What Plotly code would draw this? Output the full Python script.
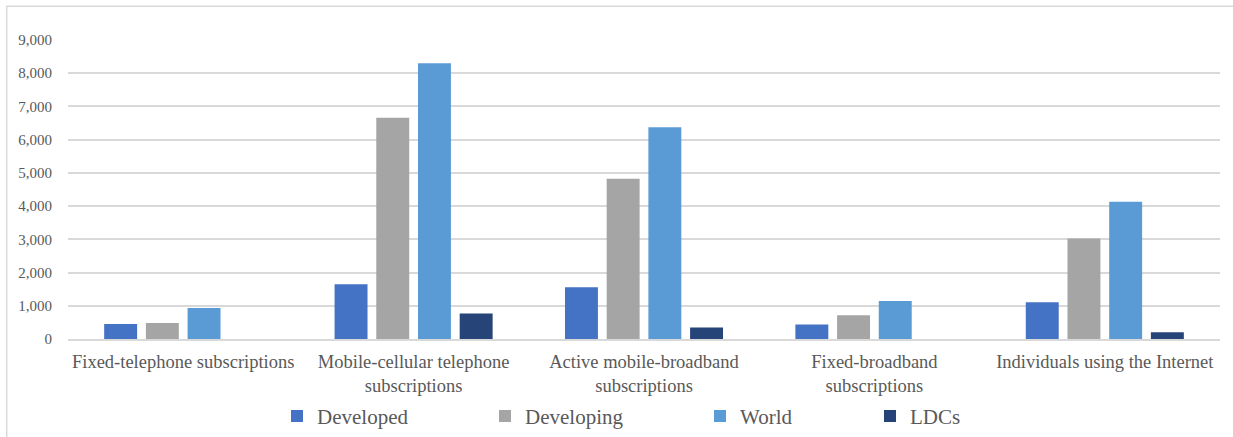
import plotly.graph_objects as go

categories = [
    "Fixed-telephone subscriptions",
    "Mobile-cellular telephone<br>subscriptions",
    "Active mobile-broadband<br>subscriptions",
    "Fixed-broadband<br>subscriptions",
    "Individuals using the Internet",
]
developed = [450, 1650, 1555, 435, 1105]
developing = [485, 6660, 4825, 715, 3025]
world = [935, 8300, 6375, 1145, 4135]
ldcs = [0, 770, 345, 0, 205]

series_names = ["Developed", "Developing", "World", "LDCs"]
series_values = [developed, developing, world, ldcs]
colors = ["#4472C4", "#A5A5A5", "#5B9BD5", "#264478"]

# plot area in pixels (used to place legends and frame in paper units)
L, R, T, B = 68, 13, 39.5, 97.5
W, H = 1233, 437
pw, ph = W - L - R, H - T - B


def px_x(x):
    return (x - L) / pw


def px_y(y):
    return (H - B - y) / ph


legend_starts = [277, 485, 700, 870]
legend_names = ["legend", "legend2", "legend3", "legend4"]

fig = go.Figure()
for name, vals, col, lg in zip(series_names, series_values, colors, legend_names):
    fig.add_trace(go.Bar(x=categories, y=vals, name=name, marker_color=col,
                         marker_line_width=0, legend=lg, showlegend=True))

text_col = "#595959"
serif = "Liberation Serif"

layout_legends = {}
for lg, xs in zip(legend_names, legend_starts):
    layout_legends[lg] = dict(
        x=px_x(xs), y=px_y(417), xanchor="left", yanchor="middle",
        orientation="h", bgcolor="rgba(0,0,0,0)", visible=True,
        font=dict(family=serif, size=21, color=text_col),
        itemwidth=30, tracegroupgap=0,
    )

fig.update_layout(
    width=W, height=H,
    margin=dict(l=L, r=R, t=T, b=B, autoexpand=False),
    paper_bgcolor="white", plot_bgcolor="white",
    barmode="group", bargap=0.276, bargroupgap=0.21,
    showlegend=True,
    font=dict(family=serif, color=text_col),
    **layout_legends,
)
fig.update_xaxes(
    showgrid=False, showline=True, linecolor="#d9d9d9", linewidth=1.5,
    tickfont=dict(family=serif, size=18.5, color=text_col), ticks="",
    ticklabelstandoff=5,
)
fig.update_yaxes(
    range=[0, 9000], dtick=1000, tickformat=",d",
    showgrid=True, gridcolor="#d9d9d9", gridwidth=1.5,
    zeroline=False, showline=False,
    tickfont=dict(family=serif, size=15, color=text_col),
    ticklabelstandoff=15,
)

# outer frame
fig.add_shape(type="rect", xref="paper", yref="paper",
              x0=px_x(6.7), x1=px_x(1300), y0=px_y(520), y1=px_y(5.7),
              line=dict(color="#d9d9d9", width=1.5), layer="below")

fig.write_html("out.html")
